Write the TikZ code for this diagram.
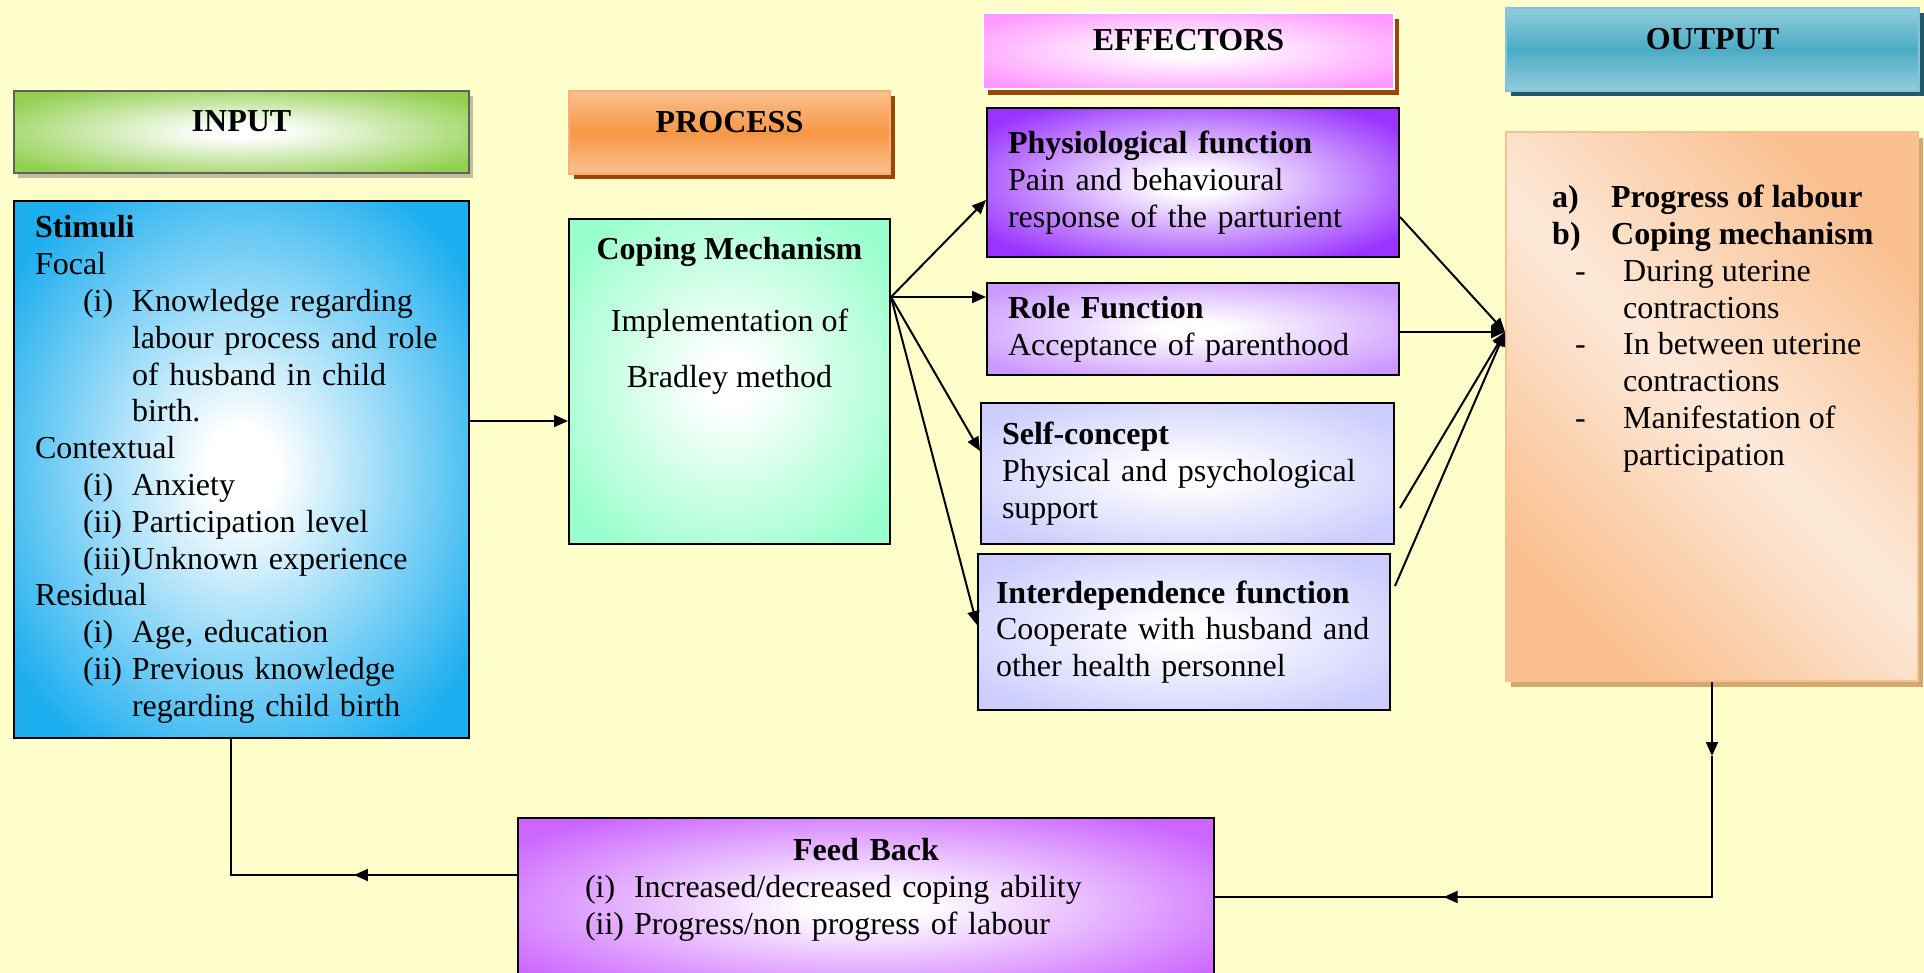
\documentclass[tikz,border=0pt]{standalone}
\usepackage{fontspec}
\setmainfont{Liberation Serif}
\usetikzlibrary{arrows.meta,positioning,calc,shadows}
\definecolor{bgyel}{HTML}{FFFFCC}
\definecolor{ingreen}{HTML}{92D050}
\definecolor{inblue}{HTML}{1CAEEF}
\definecolor{porange}{HTML}{F79646}
\definecolor{porangel}{HTML}{FAC090}
\definecolor{pmint}{HTML}{99FFCC}
\definecolor{epink}{HTML}{FF99FF}
\definecolor{ephys}{HTML}{9933FF}
\definecolor{erole}{HTML}{CC99FF}
\definecolor{elav}{HTML}{CCCCFF}
\definecolor{oteal}{HTML}{4BACC6}
\definecolor{oteall}{HTML}{92CDDC}
\definecolor{opeach}{HTML}{FAC090}
\definecolor{opeachl}{HTML}{FDE9D9}
\definecolor{fbviolet}{HTML}{CC66FF}
\definecolor{sbrown}{HTML}{984807}
\definecolor{stan}{HTML}{C4BD97}
\definecolor{steal}{HTML}{215968}
\definecolor{speach}{HTML}{D2A86E}
\colorlet{glowc}{white}
% white centre fading out to the box colour
\pgfdeclareradialshading[glowc]{glow}{\pgfpointorigin}{color(0bp)=(white); color(4bp)=(white); color(31bp)=(glowc); color(100bp)=(glowc)}
\newcommand{\bigfont}{\fontsize{32}{36.8}\selectfont}
\tikzset{
  glow/.code   = {\colorlet{glowc}{#1}\tikzset{shading=glow, shade}},
  hdr/.style   = {rectangle, anchor=north west, font=\bigfont\bfseries, text depth=22pt, inner sep=0pt, line width=2pt},
  box/.style   = {rectangle, anchor=north west, draw=black, line width=2pt, align=left, inner ysep=0pt},
  band/.style  = {top color=#1, bottom color=#1},
  arr/.style   = {-{Triangle[length=14pt,width=12pt]}, line width=2pt},
  wire/.style  = {line width=2pt},
  txt/.style   = {inner sep=0pt},
}
\newcommand{\initem}[2]{\hspace*{48pt}\makebox[49pt][l]{#1}#2}
\newcommand{\incont}[1]{\hspace*{97pt}#1}

\begin{document}
\begin{tikzpicture}[x=1pt, y=-1pt, font=\bigfont]
\useasboundingbox (0,0) rectangle (1924,973);
\fill[bgyel] (0,0) rectangle (1924,973);

% ---- headers ----------------------------------------------------------
\node[hdr, glow=ingreen, draw=gray!75!black, minimum width=455, minimum height=82,
      general shadow={fill=stan, shadow xshift=4pt, shadow yshift=-5pt}] (inH) at (13,90) {INPUT};
\node[hdr, band=porangel, middle color=porange, draw=porange!75!white, minimum width=321, minimum height=83,
      general shadow={fill=sbrown, shadow xshift=5pt, shadow yshift=-5pt}] (procH) at (568,90) {PROCESS};
\node[hdr, glow=epink, draw=white, minimum width=411, minimum height=76,
      general shadow={fill=sbrown, shadow xshift=5pt, shadow yshift=-6pt}] (effH) at (982,12) {EFFECTORS};
\node[hdr, band=oteall, middle color=oteal, draw=oteal!70!white, minimum width=413, minimum height=83,
      general shadow={fill=steal, shadow xshift=5pt, shadow yshift=-5pt}] (outH) at (1505,7) {OUTPUT};

% ---- input --------------------------------------------------------------
\node[box, glow=inblue, minimum width=455, minimum height=537, text width=413, inner xsep=21pt] (inp) at (13,200)
  {\textbf{Stimuli}\\
   Focal\\
   \initem{(i)}{Knowledge regarding}\\
   \incont{labour process and role}\\
   \incont{of husband in child}\\
   \incont{birth.}\\
   Contextual\\
   \initem{(i)}{Anxiety}\\
   \initem{(ii)}{Participation level}\\
   \initem{(iii)}{Unknown experience}\\
   Residual\\
   \initem{(i)}{Age, education}\\
   \initem{(ii)}{Previous knowledge}\\
   \incont{regarding child birth}};

% ---- process ------------------------------------------------------------
\node[box, glow=pmint, minimum width=321, minimum height=325] (proc) at (568,218) {};
\node[txt, anchor=north, align=center] (procTxt) at ($(proc.north)+(0,19)$)
  {\textbf{Coping Mechanism}\\[35pt] Implementation of\\[19pt] Bradley method};

% ---- effectors ----------------------------------------------------------
\node[box, glow=ephys, minimum width=412, minimum height=149, text width=370, inner xsep=21pt] (phys) at (986,107)
  {\textbf{Physiological function}\\ Pain and behavioural\\ response of the parturient};
\node[box, glow=erole, minimum width=412, minimum height=92, text width=370, inner xsep=21pt] (role) at (986,282)
  {\textbf{Role Function}\\ Acceptance of parenthood};
\node[box, glow=elav, minimum width=413, minimum height=141, text width=371, inner xsep=21pt] (self) at (980,402)
  {\textbf{Self-concept}\\ Physical and psychological\\ support};
\node[box, glow=elav, minimum width=412, minimum height=156, text width=376, inner xsep=18pt] (inter) at (977,553)
  {\textbf{Interdependence function}\\ Cooperate with husband and\\ other health personnel};

% ---- output -------------------------------------------------------------
\node[box, band=opeach, middle color=opeachl, shading angle=-45, draw=opeach, minimum width=412, minimum height=549,
      general shadow={fill=speach, shadow xshift=5pt, shadow yshift=-6pt}] (outp) at (1505,131) {};
\node[txt, anchor=north west, align=left] (outTxt) at (1552,185)
  {\textbf{\makebox[59pt][l]{a)}Progress of labour}\\
   \textbf{\makebox[59pt][l]{b)}Coping mechanism}\\
   \hspace*{23pt}\makebox[48pt][l]{-}During uterine\\
   \hspace*{71pt}contractions\\
   \hspace*{23pt}\makebox[48pt][l]{-}In between uterine\\
   \hspace*{71pt}contractions\\
   \hspace*{23pt}\makebox[48pt][l]{-}Manifestation of\\
   \hspace*{71pt}participation};

% ---- feed back ----------------------------------------------------------
\node[box, glow=fbviolet, minimum width=696, minimum height=175] (fb) at (517,817) {};
\node[txt, anchor=north, align=left, text width=562] (fbTxt) at ($(fb.north)+(0,21)$)
  {\makebox[562pt]{\textbf{Feed Back}}\\
   \makebox[49pt][l]{(i)}Increased/decreased coping ability\\
   \makebox[49pt][l]{(ii)}Progress/non progress of labour};

% ---- connectors ---------------------------------------------------------
\draw[arr] ($(inp.north east)+(0,221)$) -- ($(proc.north west)+(0,203)$);

\coordinate (fork) at ($(proc.north east)+(0,79)$);
\foreach \b/\d in {phys/93, role/15, self/49, inter/72}
  \draw[arr] (fork) -- ($(\b.north west)+(0,\d)$);

\coordinate (conv) at ($(outp.north west)+(0,201)$);
\draw[arr] ($(phys.north east)+(0,110)$) -- (conv);
\draw[arr] ($(role.north east)+(0,50)$) -- (conv);
\draw[arr] ($(self.north east)+(5,106)$) -- (conv);
\draw[arr] ($(inter.north east)+(4,33)$) -- (conv);

% loop back: output -> feed back -> input
\coordinate (dn) at ($(outp.south)+(0,74)$);
\coordinate (fbR) at ($(fb.north east)+(0,80)$);
\coordinate (brc) at (outp.south |- fbR);
\draw[arr] (outp.south) -- (dn);
\draw[wire] (dn) -- (brc) -- (fbR);
\draw[arr] (brc) -- ($(brc)!0.54!(fbR)$);

\coordinate (fbL) at ($(fb.north west)+(0,58)$);
\coordinate (inpB) at ($(inp.south west)+(218,0)$);
\coordinate (blc) at (inpB |- fbL);
\draw[wire] (fbL) -- (blc) -- (inpB);
\draw[arr] (fbL) -- ($(fbL)!0.57!(blc)$);
\end{tikzpicture}
\end{document}
